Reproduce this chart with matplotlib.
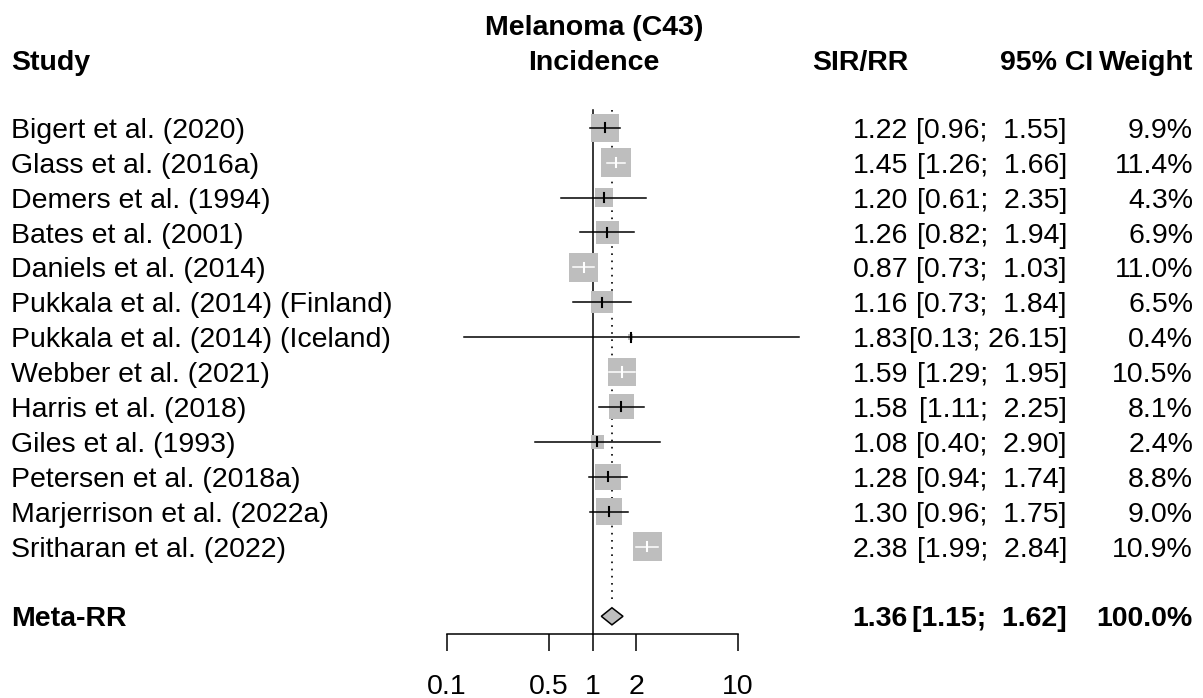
import numpy as np
import matplotlib.pyplot as plt
from matplotlib.patches import Polygon
from matplotlib.transforms import blended_transform_factory

# Study-level estimates (SIR/RR with 95% CI) and random-effects weights
studies = [
    "Bigert et al. (2020)",
    "Glass et al. (2016a)",
    "Demers et al. (1994)",
    "Bates et al. (2001)",
    "Daniels et al. (2014)",
    "Pukkala et al. (2014) (Finland)",
    "Pukkala et al. (2014) (Iceland)",
    "Webber et al. (2021)",
    "Harris et al. (2018)",
    "Giles et al. (1993)",
    "Petersen et al. (2018a)",
    "Marjerrison et al. (2022a)",
    "Sritharan et al. (2022)",
]
est = [1.22, 1.45, 1.20, 1.26, 0.87, 1.16, 1.83, 1.59, 1.58, 1.08, 1.28, 1.30, 2.38]
lower = [0.96, 1.26, 0.61, 0.82, 0.73, 0.73, 0.13, 1.29, 1.11, 0.40, 0.94, 0.96, 1.99]
upper = [1.55, 1.66, 2.35, 1.94, 1.03, 1.84, 26.15, 1.95, 2.25, 2.90, 1.74, 1.75, 2.84]
weights = [9.9, 11.4, 4.3, 6.9, 11.0, 6.5, 0.4, 10.5, 8.1, 2.4, 8.8, 9.0, 10.9]

meta_label = "Meta-RR"
meta_est, meta_lo, meta_hi, meta_w = 1.36, 1.15, 1.62, 100.0

tick_vals = [0.1, 0.5, 1, 2, 10]
tick_labels = ["0.1", "0.5", "1", "2", "10"]

plt.rcParams['font.family'] = ['Liberation Sans', 'DejaVu Sans']

W, H = 1203, 698
fig = plt.figure(figsize=(W / 100, H / 100), dpi=100)
ax = fig.add_axes([0, 0, 1, 1])
ax.set_xscale('log')

# log axis: 145.5 px per decade, x=1 at 592.5 px; rows 34.9 px apart, first row at 127.7 px
px0, dec = 592.5, 145.5
row0, rowh = 127.7, 34.9
ax.set_xlim(10 ** (-px0 / dec), 10 ** ((W - px0) / dec))
ax.set_ylim((H - row0) / rowh, -row0 / rowh)
ax.axis('off')

gray = '#BEBEBE'
fs = 20.5
cap = 0.716 * fs * 100 / 72 / 2 / rowh   # half cap height in rows
tr = blended_transform_factory(fig.transFigure, ax.transData)


def put(xpx, row, s, ha, bold=False):
    ax.text(xpx / W, row + cap, s, transform=tr, ha=ha, va='baseline',
            fontsize=fs, fontweight='bold' if bold else 'normal')


n = len(studies)
rows = np.arange(n)
meta_row = n + 1
axis_row = meta_row + 0.5

# reference line at 1 and dotted line at the pooled estimate
ax.plot([1, 1], [-0.5, axis_row], color='black', lw=1.1, zorder=1)
ax.plot([meta_est, meta_est], [-0.5, meta_row - 0.45], color='black', lw=1.2,
        linestyle=(0, (1, 3.3)), zorder=1)

# weight-scaled squares
side_px = 8.8 * np.sqrt(weights)
ax.scatter(est, rows, marker='s', s=(side_px * 0.72) ** 2, color=gray,
           linewidths=0, zorder=2)

# CI lines: white when the interval sits inside its square
for r, e, lo, hi, sp in zip(rows, est, lower, upper, side_px):
    c = ax.transData.transform((e, r))[0]
    a = ax.transData.transform((lo, r))[0]
    b = ax.transData.transform((hi, r))[0]
    col = 'white' if (a >= c - sp / 2 and b <= c + sp / 2) else 'black'
    ax.plot([lo, hi], [r, r], color=col, lw=1.1, zorder=3)
    ax.plot([e, e], [r - 0.13, r + 0.13], color=col, lw=1.5, zorder=3)

# pooled diamond
dh = 0.245
ax.add_patch(Polygon([(meta_lo, meta_row), (meta_est, meta_row - dh),
                      (meta_hi, meta_row), (meta_est, meta_row + dh)],
                     closed=True, facecolor=gray, edgecolor='black', lw=1.1, zorder=3))

# x axis
ax.plot([tick_vals[0], tick_vals[-1]], [axis_row, axis_row], color='black', lw=1.1)
ax.vlines(tick_vals, axis_row, axis_row + 0.49, color='black', lw=1.1)
for v, lab in zip(tick_vals, tick_labels):
    ax.text(v, 15.92 + cap, lab, ha='center', va='baseline', fontsize=fs)

# headers
put(594, -2.94, "Melanoma (C43)", 'center', bold=True)
put(594, -1.94, "Incidence", 'center', bold=True)
put(11, -1.94, "Study", 'left', bold=True)
put(908, -1.94, "SIR/RR", 'right', bold=True)
put(1093, -1.94, "95% CI", 'right', bold=True)
put(1193, -1.94, "Weight", 'right', bold=True)

# study rows
for r, name, e, lo, hi, w in zip(rows, studies, est, lower, upper, weights):
    put(11, r, name, 'left')
    put(908, r, f"{e:.2f}", 'right')
    put(1067, r, f"[{lo:.2f}; {hi:5.2f}]", 'right')
    put(1193, r, f"{w:.1f}%", 'right')

# pooled row
put(11, meta_row, meta_label, 'left', bold=True)
put(908, meta_row, f"{meta_est:.2f}", 'right', bold=True)
put(1067, meta_row, f"[{meta_lo:.2f}; {meta_hi:5.2f}]", 'right', bold=True)
put(1193, meta_row, f"{meta_w:.1f}%", 'right', bold=True)

fig.savefig('out.png', dpi=100)
